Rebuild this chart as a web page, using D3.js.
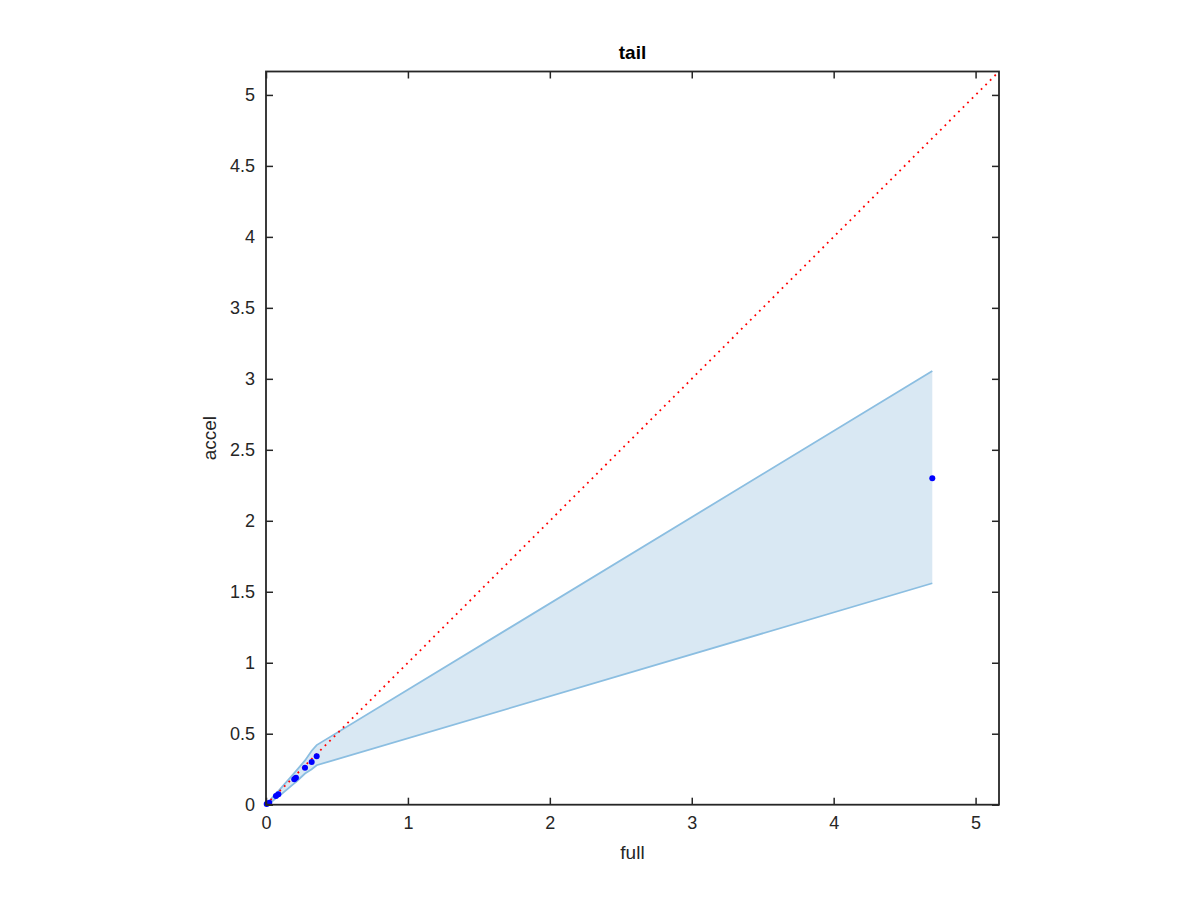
<!DOCTYPE html>
<html><head><meta charset="utf-8">
<script src="https://cdn.jsdelivr.net/npm/d3@7"></script>
<style>body{margin:0;background:#fff}svg{display:block}text{font-family:"Liberation Sans",Arial,Helvetica,sans-serif}</style>
</head><body>
<svg id="c" width="1200" height="900"></svg>
<script>
const titleText = "tail";
const xLabel = "full";
const yLabel = "accel";
const axisMax = 5.165;
const xTicks = [0,1,2,3,4,5];
const yTicks = [0,0.5,1,1.5,2,2.5,3,3.5,4,4.5,5];
const pointX = [0.005,0.023,0.070,0.087,0.199,0.211,0.275,0.322,0.357,4.695];
const pointY = [0.005,0.014,0.061,0.073,0.179,0.190,0.260,0.301,0.341,2.300];
const bandLower = [0.000,0.006,0.046,0.056,0.150,0.160,0.220,0.250,0.278,1.560];
const bandUpper = [0.011,0.026,0.082,0.096,0.222,0.236,0.312,0.380,0.420,3.055];

(function(){
const svg = d3.select("#c");
const L=266, R=999, T=71.5, B=804.7;
const x = d3.scaleLinear().domain([0,axisMax]).range([L,R]);
const y = d3.scaleLinear().domain([0,axisMax]).range([B,T]);

const band = pointX.map((v,i)=>({x:v,lo:bandLower[i],hi:bandUpper[i]}));
svg.append("path").datum(band)
  .attr("d", d3.area().x(d=>x(d.x)).y0(d=>y(d.lo)).y1(d=>y(d.hi)))
  .attr("fill","rgb(217,232,243)").attr("stroke","none");
svg.append("path").datum(band)
  .attr("d", d3.line().x(d=>x(d.x)).y(d=>y(d.hi)))
  .attr("fill","none").attr("stroke","rgb(139,190,225)").attr("stroke-width",1.8);
svg.append("path").datum(band)
  .attr("d", d3.line().x(d=>x(d.x)).y(d=>y(d.lo)))
  .attr("fill","none").attr("stroke","rgb(139,190,225)").attr("stroke-width",1.8);

svg.append("line")
  .attr("x1",x(0)).attr("y1",y(0)).attr("x2",x(axisMax)).attr("y2",y(axisMax))
  .attr("stroke","#ff0000").attr("stroke-width",1.8).attr("stroke-dasharray","1.8,4.6");

svg.append("g").selectAll("circle").data(pointX).join("circle")
  .attr("cx",(d)=>x(d)).attr("cy",(d,i)=>y(pointY[i])).attr("r",3).attr("fill","#0000ff");

const axc = "#262626";
const tl = 7;
const axB = d3.axisBottom(x).tickValues(xTicks).tickSize(-tl).tickPadding(tl+5).tickFormat(d3.format("~g"));
const axL = d3.axisLeft(y).tickValues(yTicks).tickSize(-tl).tickPadding(tl+4).tickFormat(d3.format("~g"));
const axT = d3.axisTop(x).tickValues(xTicks).tickSize(-tl).tickFormat("");
const axR = d3.axisRight(y).tickValues(yTicks).tickSize(-tl).tickFormat("");
function style(g){
  g.select(".domain").remove();
  g.selectAll("line").attr("stroke",axc).attr("stroke-width",1.5);
  g.selectAll("text").attr("fill",axc).style("font-size","18px").style("font-family","'Liberation Sans',Arial,sans-serif");
}
svg.append("g").attr("transform",`translate(0,${B})`).call(axB).call(style);
svg.append("g").attr("transform",`translate(${L},0)`).call(axL).call(style);
svg.append("g").attr("transform",`translate(0,${T})`).call(axT).call(style);
svg.append("g").attr("transform",`translate(${R},0)`).call(axR).call(style);
svg.append("rect").attr("x",L).attr("y",T).attr("width",R-L).attr("height",B-T)
  .attr("fill","none").attr("stroke",axc).attr("stroke-width",1.8);

svg.append("text").attr("x",(L+R)/2).attr("y",59).attr("text-anchor","middle")
  .style("font-size","19px").style("font-weight","bold").attr("fill","#000").text(titleText);
svg.append("text").attr("x",(L+R)/2).attr("y",859).attr("text-anchor","middle")
  .style("font-size","19px").attr("fill",axc).text(xLabel);
svg.append("text").attr("transform",`translate(216,${(T+B)/2}) rotate(-90)`).attr("text-anchor","middle")
  .style("font-size","19px").attr("fill",axc).text(yLabel);
})();
</script>
</body></html>
